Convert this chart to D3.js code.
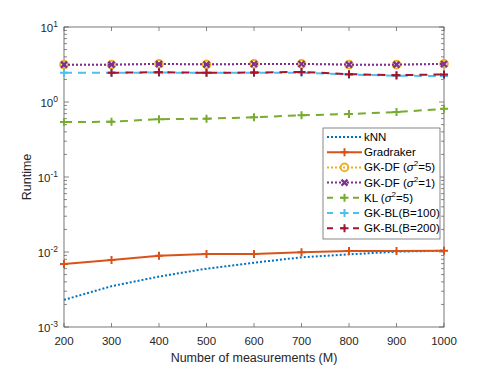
<!DOCTYPE html>
<html><head><meta charset="utf-8">
<script src="https://cdn.jsdelivr.net/npm/d3@7"></script>
<style>body{margin:0;background:#fff}svg{display:block}text{font-family:"Liberation Sans",Arial,sans-serif}</style>
</head><body><svg id="c" width="491" height="368"></svg>
<script>
const M = [200,300,400,500,600,700,800,900,1000];
const kNN = [0.0023,0.0035,0.0047,0.006,0.0072,0.0085,0.0093,0.0101,0.0104];
const gradraker = [0.0069,0.0078,0.0089,0.0094,0.0094,0.0099,0.0103,0.0103,0.0104];
const gkdf5 = [3.15,3.15,3.22,3.17,3.22,3.22,3.15,3.15,3.22];
const gkdf1 = [3.15,3.15,3.22,3.17,3.22,3.22,3.15,3.15,3.22];
const kl5 = [0.54,0.545,0.59,0.6,0.625,0.665,0.69,0.735,0.81];
const bl100 = [2.45,2.45,2.47,2.45,2.45,2.45,2.33,2.24,2.22];
const bl200 = [null,2.45,2.5,2.45,2.47,2.52,2.35,2.28,2.33];
const xTicks = [200,300,400,500,600,700,800,900,1000];
const yExps = [-3,-2,-1,0,1];
const seriesNames = ["kNN","Gradraker","GK-DF5","GK-DF1","KL","GK-BL(B=100)","GK-BL(B=200)"];

const svg = d3.select("#c");
const L=64,R=444,T=27,B=327;
const x = d3.scaleLinear().domain([200,1000]).range([L,R]);
const y = d3.scaleLog().domain([1e-3,1e1]).range([B,T]);
const axisCol="#262626";
const boxCol="#555";

const g = svg.append("g");
const minor=[];
for(let e=-3;e<1;e++) for(let k=2;k<=9;k++) minor.push(k*Math.pow(10,e));
minor.forEach(v=>{
  g.append("line").attr("x1",L).attr("x2",L+3).attr("y1",y(v)).attr("y2",y(v)).attr("stroke",boxCol).attr("stroke-width",0.7);
  g.append("line").attr("x1",R).attr("x2",R-3).attr("y1",y(v)).attr("y2",y(v)).attr("stroke",boxCol).attr("stroke-width",0.7);
});
yExps.forEach(e=>{
  const v=Math.pow(10,e);
  g.append("line").attr("x1",L).attr("x2",L+5).attr("y1",y(v)).attr("y2",y(v)).attr("stroke",boxCol).attr("stroke-width",0.7);
  g.append("line").attr("x1",R).attr("x2",R-5).attr("y1",y(v)).attr("y2",y(v)).attr("stroke",boxCol).attr("stroke-width",0.7);
  const t=g.append("text").attr("x",L-6).attr("y",y(v)+5).attr("text-anchor","end").attr("font-size",11.5).attr("fill",axisCol);
  t.append("tspan").text("10");
  t.append("tspan").attr("dy",-5).attr("font-size",8.5).text(e);
});
xTicks.forEach(v=>{
  g.append("line").attr("x1",x(v)).attr("x2",x(v)).attr("y1",B).attr("y2",B-4).attr("stroke",boxCol).attr("stroke-width",0.7);
  g.append("line").attr("x1",x(v)).attr("x2",x(v)).attr("y1",T).attr("y2",T+4).attr("stroke",boxCol).attr("stroke-width",0.7);
  g.append("text").attr("x",x(v)).attr("y",B+18).attr("text-anchor","middle").attr("font-size",11.5).attr("fill",axisCol).text(v);
});
g.append("rect").attr("x",L).attr("y",T).attr("width",R-L).attr("height",B-T).attr("fill","none").attr("stroke",boxCol).attr("stroke-width",0.8);
svg.append("text").attr("x",(L+R)/2).attr("y",B+35).attr("text-anchor","middle").attr("font-size",12.5).attr("fill",axisCol).text("Number of measurements (M)");
svg.append("text").attr("transform",`translate(31,${(T+B)/2}) rotate(-90)`).attr("text-anchor","middle").attr("font-size",12.5).attr("fill",axisCol).text("Runtime");

const series = [
  {name:seriesNames[0], vals:kNN, color:"#0072BD", dash:"2,2", marker:null},
  {name:seriesNames[1], vals:gradraker, color:"#D95319", dash:null, marker:"plus"},
  {name:seriesNames[2], vals:gkdf5, color:"#EDB120", dash:"2,2", marker:"circle"},
  {name:seriesNames[3], vals:gkdf1, color:"#7E2F8E", dash:"2,2", marker:"x"},
  {name:seriesNames[4], vals:kl5, color:"#77AC30", dash:"8,6", marker:"plus"},
  {name:seriesNames[5], vals:bl100, color:"#4DBEEE", dash:"8,6", marker:"plus"},
  {name:seriesNames[6], vals:bl200, color:"#A2142F", dash:"8,6", marker:"plus"},
];
const line = d3.line().defined(d=>d[1]!=null).x(d=>x(d[0])).y(d=>y(d[1]));
function drawMarker(sel,type,cx,cy,color){
  if(type==="plus"){
    sel.append("path").attr("d",`M${cx-4},${cy}H${cx+4}M${cx},${cy-4}V${cy+4}`).attr("stroke",color).attr("stroke-width",2).attr("fill","none");
  } else if(type==="circle"){
    sel.append("circle").attr("cx",cx).attr("cy",cy).attr("r",3.8).attr("stroke",color).attr("stroke-width",2).attr("fill","none");
  } else if(type==="x"){
    sel.append("path").attr("d",`M${cx-3},${cy-3}L${cx+3},${cy+3}M${cx-3},${cy+3}L${cx+3},${cy-3}`).attr("stroke",color).attr("stroke-width",2.2).attr("fill","none");
  }
}
const pg = svg.append("g");
series.forEach(s=>{
  const data=M.map((m,i)=>[m,s.vals[i]]);
  pg.append("path").datum(data).attr("d",line).attr("fill","none").attr("stroke",s.color).attr("stroke-width",2).attr("stroke-dasharray",s.dash);
  if(s.marker) data.filter(d=>d[1]!=null).forEach(d=>drawMarker(pg,s.marker,x(d[0]),y(d[1]),s.color));
});

// legend
const lx=323, ly=128, lw=117, lh=111;
const lg=svg.append("g");
lg.append("rect").attr("x",lx).attr("y",ly).attr("width",lw).attr("height",lh).attr("fill","#fff").attr("stroke",boxCol).attr("stroke-width",0.7);
const labels=[
  [["kNN"]],
  [["Gradraker"]],
  [["GK-DF ("],["σ","it"],["2","sup"],["=5)","back"]],
  [["GK-DF ("],["σ","it"],["2","sup"],["=1)","back"]],
  [["KL ("],["σ","it"],["2","sup"],["=5)","back"]],
  [["GK-BL(B=100)"]],
  [["GK-BL(B=200)"]],
];
series.forEach((s,i)=>{
  const yy=ly+9+i*15.2;
  lg.append("line").attr("x1",lx+4).attr("x2",lx+39).attr("y1",yy).attr("y2",yy).attr("stroke",s.color).attr("stroke-width",2).attr("stroke-dasharray",s.dash?(s.dash==="2,2"?"2,2":"6,7"):null);
  if(s.marker) drawMarker(lg,s.marker,lx+21.5,yy,s.color);
  const t=lg.append("text").attr("x",lx+41).attr("y",yy+4).attr("font-size",11.5).attr("fill","#000");
  labels[i].forEach(p=>{
    const ts=t.append("tspan").text(p[0]);
    if(p[1]==="it") ts.attr("font-style","italic");
    if(p[1]==="sup") ts.attr("dy",-5).attr("font-size",8);
    if(p[1]==="back") ts.attr("dy",5);
  });
});
</script></body></html>
